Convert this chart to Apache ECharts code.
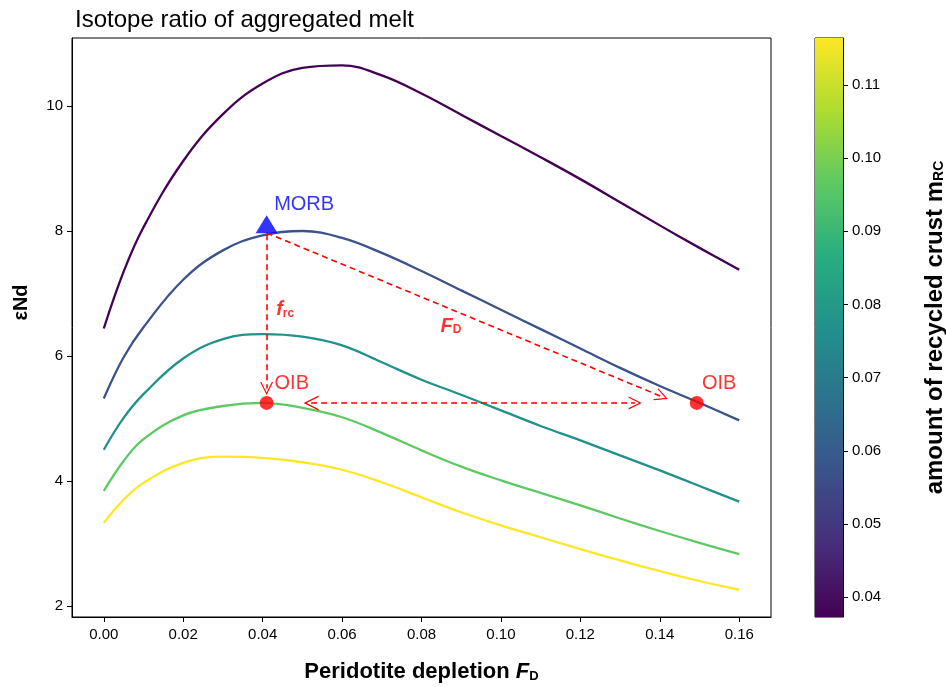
<!DOCTYPE html>
<html>
<head>
<meta charset="utf-8">
<script src="https://cdn.jsdelivr.net/npm/echarts@6/dist/echarts.min.js"></script>
<style>
  html, body { margin: 0; padding: 0; background: #fff; }
  #chart { width: 946px; height: 687px; }
</style>
</head>
<body>
<div id="chart"></div>
<script>
// peridotite depletion F_D (x) and eps Nd of aggregated melt for 5 values of m_RC
const depletion = [0, 0.005, 0.01, 0.02, 0.03, 0.04, 0.05, 0.06, 0.07, 0.08, 0.09, 0.10, 0.11, 0.12, 0.13, 0.14, 0.15, 0.16];
const curve1 = [6.44, 7.35, 8.06, 9.12, 9.87, 10.36, 10.61, 10.65, 10.49, 10.20, 9.86, 9.52, 9.18, 8.83, 8.46, 8.09, 7.73, 7.38];
const curve2 = [5.32, 5.98, 6.46, 7.22, 7.69, 7.93, 8.00, 7.89, 7.65, 7.36, 7.05, 6.74, 6.43, 6.12, 5.81, 5.52, 5.25, 4.97];
const curve3 = [4.50, 5.01, 5.39, 5.96, 6.27, 6.35, 6.31, 6.17, 5.90, 5.62, 5.38, 5.13, 4.88, 4.65, 4.41, 4.17, 3.92, 3.67];
const curve4 = [3.84, 4.32, 4.67, 5.05, 5.20, 5.25, 5.17, 5.02, 4.77, 4.49, 4.23, 4.01, 3.81, 3.61, 3.40, 3.20, 3.01, 2.83];
const curve5 = [3.33, 3.70, 3.97, 4.29, 4.39, 4.37, 4.30, 4.18, 3.98, 3.74, 3.50, 3.29, 3.10, 2.91, 2.73, 2.56, 2.40, 2.26];
const curveColors = ['#440154', '#3b528b', '#21918c', '#5ec962', '#fde725'];

const xTicks = [0, 0.02, 0.04, 0.06, 0.08, 0.10, 0.12, 0.14, 0.16];
const yTicks = [2, 4, 6, 8, 10];
const cbTicks = [0.04, 0.05, 0.06, 0.07, 0.08, 0.09, 0.10, 0.11];
const cbRange = [0.0373, 0.1164];

// annotation points
const morb = [0.041, 8.11];
const oibPoints = [[0.041, 5.25], [0.1493, 5.25]];
const arrowVertical = [[0.041, 7.95], [0.041, 5.48]];
const arrowDiagonal = [[0.041, 7.97], [0.1405, 5.35]];
const arrowHorizontal = [[0.0522, 5.25], [0.1338, 5.25]];

const font = 'Liberation Sans';
const chevron = 'path://M5,0L10,10L9,10L5,2L1,10L0,10Z';
const viridis = [
  { offset: 0, color: '#440154' },
  { offset: 0.125, color: '#472d7b' },
  { offset: 0.25, color: '#3b528b' },
  { offset: 0.375, color: '#2c728e' },
  { offset: 0.5, color: '#21918c' },
  { offset: 0.625, color: '#28ae80' },
  { offset: 0.75, color: '#5ec962' },
  { offset: 0.875, color: '#addc30' },
  { offset: 1, color: '#fde725' }
];

const curves = [curve1, curve2, curve3, curve4, curve5];
const lineSeries = curves.map((c, i) => ({
  type: 'line',
  data: depletion.map((x, j) => [x, c[j]]),
  smooth: 0.4,
  showSymbol: false,
  lineStyle: { color: curveColors[i], width: 2.3 },
  z: 2
}));

function arrow(coords, both) {
  return {
    type: 'lines',
    coordinateSystem: 'cartesian2d',
    symbol: [both ? chevron : 'none', chevron],
    symbolSize: [15, 13],
    lineStyle: { color: '#ff0000', width: 1.6, type: [6, 4], opacity: 1 },
    data: [{ coords: coords }],
    z: 4
  };
}

function textLabel(x, y, text, color) {
  return {
    value: [x, y],
    label: {
      show: true,
      position: [0, 0],
      align: 'left',
      verticalAlign: 'middle',
      formatter: text,
      color: color,
      fontFamily: font,
      fontSize: 20,
      rich: {
        bi: { fontSize: 20, fontWeight: 'bold', fontStyle: 'italic', color: '#ff0000', fontFamily: font },
        sub: { fontSize: 12, fontWeight: 'bold', color: '#ff0000', fontFamily: font, padding: [8, 0, 0, 0] }
      }
    }
  };
}

const option = {
  animation: false,
  title: {
    text: 'Isotope ratio of aggregated melt',
    left: 70,
    top: 3,
    textStyle: { fontFamily: font, fontSize: 24, fontWeight: 'normal', color: '#000' }
  },
  grid: [
    { left: 72, right: 175, top: 38, bottom: 70, outerBoundsMode: 'none', show: true, borderColor: '#000', borderWidth: 1 },
    { left: 815, width: 28, top: 38, bottom: 70, outerBoundsMode: 'none', show: true, borderColor: '#000', borderWidth: 1 }
  ],
  xAxis: [
    {
      type: 'value',
      min: -0.008,
      max: 0.168,
      name: '{n|Peridotite depletion }{f|F}{s|D}',
      nameLocation: 'middle',
      nameGap: 44,
      nameTextStyle: {
        rich: {
          n: { fontFamily: font, fontSize: 22, fontWeight: 'bold', color: '#000' },
          f: { fontFamily: font, fontSize: 22, fontWeight: 'bold', fontStyle: 'italic', color: '#000' },
          s: { fontFamily: font, fontSize: 13, fontWeight: 'bold', color: '#000', padding: [9, 0, 0, 0] }
        }
      },
      axisLine: { show: true, onZero: false, lineStyle: { color: '#000', width: 1 } },
      axisTick: { show: true, inside: false, length: 5, customValues: xTicks, lineStyle: { color: '#000' } },
      axisLabel: {
        customValues: xTicks,
        formatter: v => v.toFixed(2),
        fontFamily: font, fontSize: 15, color: '#000', margin: 10
      },
      splitLine: { show: false }
    },
    { type: 'value', gridIndex: 1, min: 0, max: 1, show: false }
  ],
  yAxis: [
    {
      type: 'value',
      min: 1.824,
      max: 11.088,
      name: 'εNd',
      nameLocation: 'middle',
      nameGap: 41,
      nameRotate: 90,
      nameTextStyle: { fontFamily: font, fontSize: 20, fontWeight: 'bold', color: '#000', padding: [0, 0, 0, 50] },
      axisLine: { show: true, onZero: false, lineStyle: { color: '#000', width: 1 } },
      axisTick: { show: true, inside: false, length: 5, customValues: yTicks, lineStyle: { color: '#000' } },
      axisLabel: { customValues: yTicks, fontFamily: font, fontSize: 15, color: '#000', margin: 9 },
      splitLine: { show: false }
    },
    {
      type: 'value',
      gridIndex: 1,
      position: 'right',
      min: cbRange[0],
      max: cbRange[1],
      name: '{n|amount of recycled crust m}{s|RC}',
      nameLocation: 'middle',
      nameGap: 80,
      nameRotate: 90,
      nameTextStyle: {
        rich: {
          n: { fontFamily: font, fontSize: 24, fontWeight: 'bold', color: '#000' },
          s: { fontFamily: font, fontSize: 14, fontWeight: 'bold', color: '#000', padding: [8, 0, 0, 0] }
        }
      },
      axisLine: { show: true, onZero: false, lineStyle: { color: '#000', width: 1 } },
      axisTick: { show: true, inside: false, length: 5, customValues: cbTicks, lineStyle: { color: '#000' } },
      axisLabel: {
        customValues: cbTicks,
        formatter: v => v.toFixed(2),
        fontFamily: font, fontSize: 15, color: '#000', margin: 9
      },
      splitLine: { show: false }
    }
  ],
  series: [
    ...lineSeries,
    arrow(arrowVertical, false),
    arrow(arrowDiagonal, false),
    arrow(arrowHorizontal, true),
    {
      type: 'scatter',
      data: oibPoints,
      symbol: 'circle',
      symbolSize: 14,
      itemStyle: { color: '#ff0000' },
      z: 6
    },
    {
      type: 'scatter',
      data: [morb],
      symbol: 'triangle',
      symbolSize: [22, 18],
      itemStyle: { color: '#0000ff' },
      z: 6
    },
    {
      type: 'scatter',
      symbolSize: 0,
      z: 7,
      data: [
        textLabel(0.0429, 8.42, 'MORB', '#0000ff'),
        textLabel(0.0430, 5.56, 'OIB', '#ff0000'),
        textLabel(0.1506, 5.56, 'OIB', '#ff0000'),
        textLabel(0.0434, 6.74, '{bi|f}{sub|rc}', '#ff0000'),
        textLabel(0.0848, 6.48, '{bi|F}{sub|D}', '#ff0000')
      ]
    },
    {
      type: 'custom',
      xAxisIndex: 1,
      yAxisIndex: 1,
      data: [[0, cbRange[0], cbRange[1]]],
      renderItem: function (params, api) {
        const p0 = api.coord([0, api.value(1)]);
        const p1 = api.coord([1, api.value(2)]);
        return {
          type: 'rect',
          shape: { x: p0[0], y: p1[1], width: p1[0] - p0[0], height: p0[1] - p1[1] },
          style: { fill: new echarts.graphic.LinearGradient(0, 1, 0, 0, viridis) }
        };
      }
    }
  ]
};

const myChart = echarts.init(document.getElementById('chart'), null, { renderer: 'canvas' });
myChart.setOption(option);
</script>
</body>
</html>
